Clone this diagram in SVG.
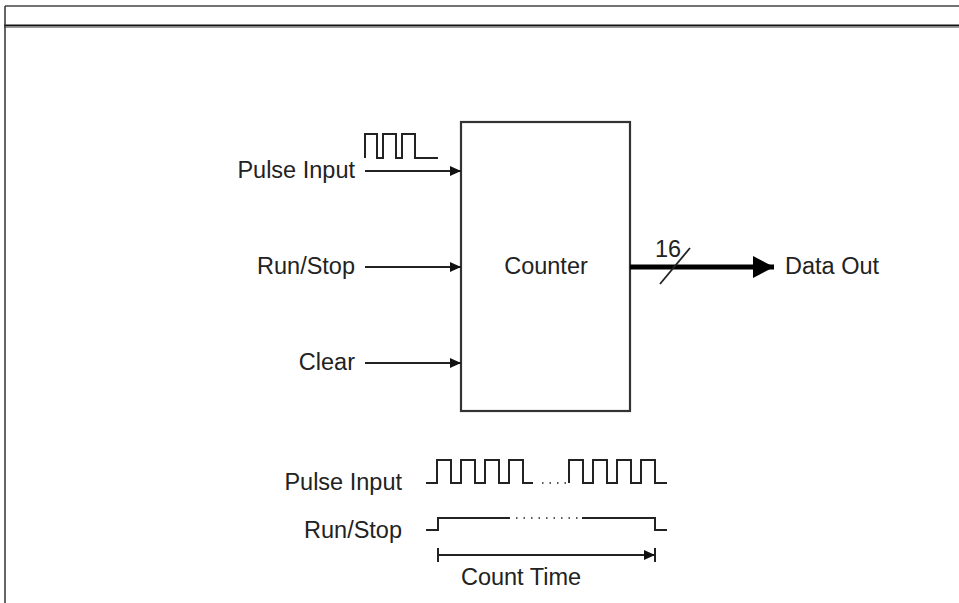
<svg xmlns="http://www.w3.org/2000/svg" width="959" height="603" viewBox="0 0 959 603">
<defs>
<style>
text{font-family:"Liberation Sans",Arial,sans-serif;font-size:23.5px;fill:#222}
.w{fill:none;stroke:#222;stroke-width:2}
.l{fill:none;stroke:#222;stroke-width:2}
.d{fill:none;stroke:#222;stroke-width:1.5;stroke-dasharray:1.5 6}
</style>
<marker id="ah" markerWidth="12" markerHeight="10" refX="11" refY="5" orient="auto" markerUnits="userSpaceOnUse">
<path d="M0,0 L11,5 L0,10 Z" fill="#111"/>
</marker>
<marker id="ahb" markerWidth="22" markerHeight="22" refX="21" refY="11" orient="auto" markerUnits="userSpaceOnUse">
<path d="M0,0 L21,11 L0,22 Z" fill="#000"/>
</marker>
</defs>
<rect width="959" height="603" fill="#fff"/>
<g id="frame">
<line x1="5" y1="6" x2="959" y2="6" stroke="#444" stroke-width="1.5"/>
<line x1="4" y1="25.5" x2="959" y2="25.5" stroke="#111" stroke-width="2"/>
<line x1="4" y1="27.5" x2="959" y2="27.5" stroke="#999" stroke-width="1"/>
<line x1="5" y1="6" x2="5" y2="603" stroke="#333" stroke-width="1.5"/>
</g>
<g id="counter">
<rect x="461" y="122" width="169" height="289" fill="#fff" stroke="#333" stroke-width="2.2"/>
<text x="546" y="274" text-anchor="middle">Counter</text>
</g>
<g id="pulse-input">
<text x="355" y="178" text-anchor="end">Pulse Input</text>
<polyline class="w" points="365,158 365,134 377,134 377,158 383,158 383,134 396,134 396,158 402,158 402,134 415,134 415,158 438,158"/>
</g>
<g id="run-stop">
<text x="355" y="274" text-anchor="end">Run/Stop</text>
</g>
<g id="clear">
<text x="355" y="370" text-anchor="end">Clear</text>
</g>
<g id="data-out">
<text x="785" y="274">Data Out</text>
<text x="655" y="257">16</text>
</g>
<g id="connectors">
<line class="l" x1="365" y1="171" x2="461" y2="171" marker-end="url(#ah)"/>
<line class="l" x1="365" y1="267" x2="461" y2="267" marker-end="url(#ah)"/>
<line class="l" x1="365" y1="363" x2="461" y2="363" marker-end="url(#ah)"/>
<line x1="630" y1="267" x2="774" y2="267" stroke="#000" stroke-width="5" marker-end="url(#ahb)"/>
<line x1="660" y1="284" x2="690" y2="248" stroke="#222" stroke-width="1.8"/>
</g>
<g id="timing">
<text x="402" y="490" text-anchor="end">Pulse Input</text>
<polyline class="w" points="426,483 437,483 437,460 451,460 451,483 461,483 461,460 475,460 475,483 485,483 485,460 499,460 499,483 509,483 509,460 523,460 523,483 533,483"/>
<line class="d" x1="542" y1="483" x2="566" y2="483"/>
<polyline class="w" points="569,483 569,460 583,460 583,483 593,483 593,460 607,460 607,483 617,483 617,460 631,460 631,483 641,483 641,460 655,460 655,483 667,483"/>
<text x="402" y="538" text-anchor="end">Run/Stop</text>
<polyline class="w" points="426,530 438,530 438,518 510,518"/>
<line class="d" x1="516" y1="518" x2="580" y2="518" stroke-dasharray="1.5 8"/>
<polyline class="w" points="582,518 655,518 655,530 667,530"/>
<line class="l" x1="438" y1="548" x2="438" y2="562"/>
<line class="l" x1="655" y1="548" x2="655" y2="562"/>
<line class="l" x1="438" y1="555" x2="655" y2="555" marker-end="url(#ah)"/>
<text x="521" y="585" text-anchor="middle">Count Time</text>
</g>
</svg>
